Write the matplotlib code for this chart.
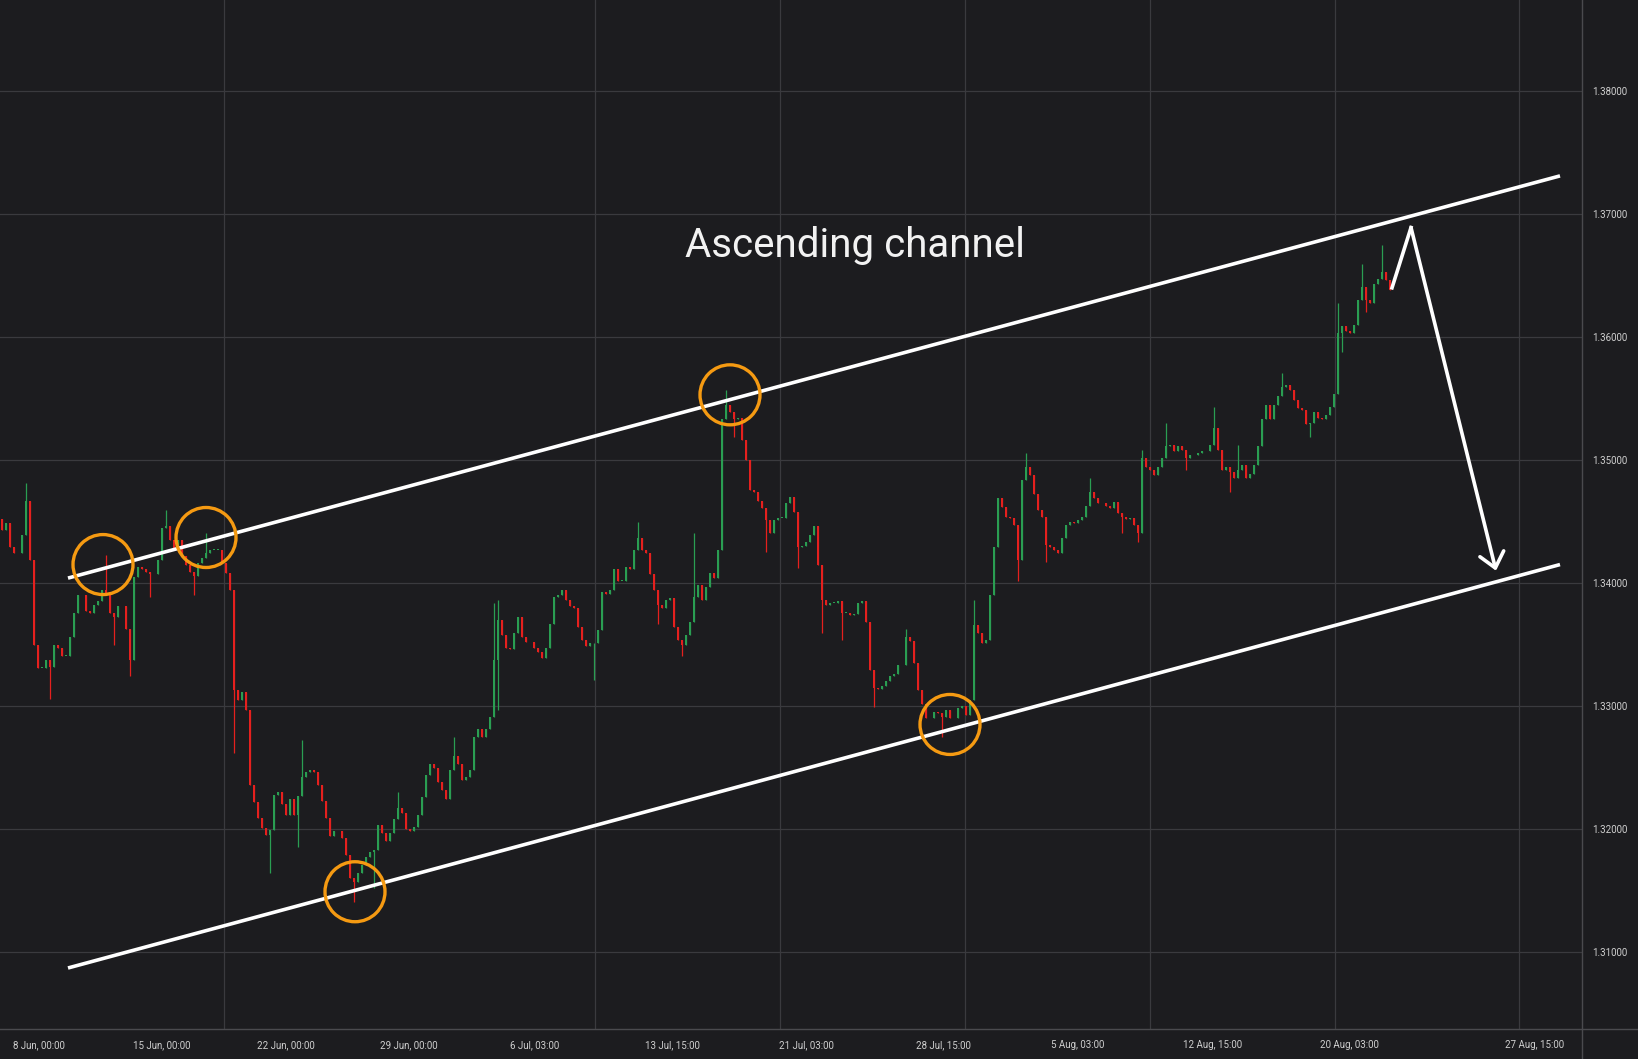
import numpy as np
import matplotlib.pyplot as plt
from matplotlib.lines import Line2D

plt.rcParams['font.family'] = ['Roboto', 'DejaVu Sans']

# x axis: trading hours counted from the left edge of the chart, one candle per 4 hours
bar_hours = 4
first_open = 1.3452

closes = [
    1.3443, 1.3449, 1.3429, 1.3424, 1.3424, 1.3439, 1.3467, 1.3419, 1.3350, 1.3331,
    1.3331, 1.3337, 1.3332, 1.3350, 1.3347, 1.3341, 1.3341, 1.3356, 1.3376, 1.3390,
    1.3390, 1.3377, 1.3376, 1.3382, 1.3385, 1.3394, 1.3390, 1.3376, 1.3372, 1.3381,
    1.3381, 1.3363, 1.3337, 1.3405, 1.3413, 1.3411, 1.3409, 1.3407, 1.3407, 1.3419,
    1.3445, 1.3446, 1.3435, 1.3427, 1.3435, 1.3422, 1.3415, 1.3409, 1.3406, 1.3416,
    1.3420, 1.3424, 1.3427, 1.3427, 1.3427, 1.3416, 1.3408, 1.3394, 1.3313, 1.3305,
    1.3311, 1.3297, 1.3236, 1.3222, 1.3209, 1.3201, 1.3195, 1.3199, 1.3228, 1.3230,
    1.3220, 1.3211, 1.3224, 1.3211, 1.3227, 1.3242, 1.3246, 1.3248, 1.3246, 1.3236,
    1.3223, 1.3209, 1.3194, 1.3198, 1.3198, 1.3193, 1.3179, 1.3160, 1.3157, 1.3164,
    1.3171, 1.3177, 1.3181, 1.3183, 1.3203, 1.3197, 1.3190, 1.3197, 1.3208, 1.3217,
    1.3213, 1.3200, 1.3198, 1.3202, 1.3211, 1.3226, 1.3244, 1.3253, 1.3250, 1.3238,
    1.3232, 1.3224, 1.3248, 1.3259, 1.3253, 1.3240, 1.3242, 1.3248, 1.3275, 1.3281,
    1.3275, 1.3281, 1.3291, 1.3337, 1.3370, 1.3358, 1.3347, 1.3346, 1.3359, 1.3372,
    1.3356, 1.3352, 1.3352, 1.3347, 1.3344, 1.3339, 1.3347, 1.3367, 1.3389, 1.3390,
    1.3394, 1.3386, 1.3381, 1.3380, 1.3364, 1.3354, 1.3349, 1.3351, 1.3351, 1.3362,
    1.3393, 1.3391, 1.3394, 1.3411, 1.3402, 1.3402, 1.3413, 1.3411, 1.3427, 1.3437,
    1.3427, 1.3424, 1.3407, 1.3394, 1.3382, 1.3380, 1.3386, 1.3388, 1.3364, 1.3354,
    1.3350, 1.3358, 1.3368, 1.3389, 1.3398, 1.3386, 1.3397, 1.3408, 1.3404, 1.3427,
    1.3533, 1.3545, 1.3539, 1.3533, 1.3534, 1.3516, 1.3500, 1.3476, 1.3474, 1.3467,
    1.3461, 1.3451, 1.3441, 1.3451, 1.3453, 1.3453, 1.3465, 1.3470, 1.3458, 1.3429,
    1.3430, 1.3433, 1.3439, 1.3446, 1.3415, 1.3386, 1.3382, 1.3384, 1.3384, 1.3385,
    1.3376, 1.3376, 1.3374, 1.3375, 1.3384, 1.3385, 1.3368, 1.3329, 1.3315, 1.3314,
    1.3316, 1.3320, 1.3324, 1.3326, 1.3333, 1.3333, 1.3356, 1.3353, 1.3335, 1.3313,
    1.3302, 1.3290, 1.3290, 1.3295, 1.3294, 1.3291, 1.3297, 1.3290, 1.3290, 1.3298,
    1.3300, 1.3293, 1.3305, 1.3366, 1.3359, 1.3351, 1.3354, 1.3390, 1.3429, 1.3469,
    1.3462, 1.3454, 1.3453, 1.3447, 1.3419, 1.3484, 1.3494, 1.3488, 1.3472, 1.3459,
    1.3454, 1.3431, 1.3429, 1.3427, 1.3424, 1.3437, 1.3447, 1.3450, 1.3449, 1.3451,
    1.3454, 1.3463, 1.3474, 1.3469, 1.3465, 1.3465, 1.3463, 1.3461, 1.3466, 1.3457,
    1.3454, 1.3452, 1.3453, 1.3447, 1.3441, 1.3502, 1.3494, 1.3492, 1.3488, 1.3494,
    1.3502, 1.3511, 1.3512, 1.3507, 1.3511, 1.3508, 1.3502, 1.3504, 1.3504, 1.3506,
    1.3507, 1.3507, 1.3512, 1.3526, 1.3508, 1.3492, 1.3494, 1.3490, 1.3485, 1.3492,
    1.3496, 1.3485, 1.3489, 1.3496, 1.3511, 1.3533, 1.3545, 1.3533, 1.3545, 1.3552,
    1.3559, 1.3561, 1.3557, 1.3549, 1.3542, 1.3541, 1.3529, 1.3530, 1.3539, 1.3534,
    1.3533, 1.3537, 1.3543, 1.3554, 1.3603, 1.3609, 1.3605, 1.3603, 1.3610, 1.3630,
    1.3641, 1.3630, 1.3628, 1.3643, 1.3647, 1.3653, 1.3646, 1.3638,
]

# wicks that stick out beyond the bodies (candle index: price)
spike_highs = {6: 1.3481, 26: 1.3423, 41: 1.3459, 51: 1.3441, 75: 1.3272, 99: 1.3230,
               113: 1.3275, 123: 1.3384, 124: 1.3386, 159: 1.3450, 173: 1.3441,
               181: 1.3557, 226: 1.3363, 243: 1.3386, 256: 1.3506, 272: 1.3485,
               285: 1.3508, 291: 1.3530, 303: 1.3543, 309: 1.3512, 320: 1.3571,
               334: 1.3628, 340: 1.3659, 345: 1.3675}
spike_lows = {12: 1.3306, 28: 1.3350, 32: 1.3324, 37: 1.3389, 48: 1.3390, 58: 1.3262,
              67: 1.3164, 74: 1.3185, 88: 1.3141, 93: 1.3152, 124: 1.3297, 148: 1.3321,
              164: 1.3367, 170: 1.3341, 183: 1.3519, 191: 1.3425, 199: 1.3412,
              205: 1.3359, 210: 1.3354, 218: 1.3299, 235: 1.3275, 254: 1.3402,
              261: 1.3417, 280: 1.3441, 284: 1.3433, 296: 1.3492, 307: 1.3474,
              327: 1.3519, 335: 1.3588, 341: 1.3620}

price_ticks = [1.31, 1.32, 1.33, 1.34, 1.35, 1.36, 1.37, 1.38]
date_pos = [39, 162, 286, 409, 535, 672, 806, 943, 1078, 1213, 1349, 1535]
date_labels = ['8 Jun, 00:00', '15 Jun, 00:00', '22 Jun, 00:00', '29 Jun, 00:00',
               '6 Jul, 03:00', '13 Jul, 15:00', '21 Jul, 03:00', '28 Jul, 15:00',
               '5 Aug, 03:00', '12 Aug, 15:00', '20 Aug, 03:00', '27 Aug, 15:00']
grid_pos = [39, 224, 409, 595, 780, 965, 1150, 1335, 1519]

# channel boundaries (hours, price)
upper_x, upper_y = [68, 1560], [1.3404, 1.3731]
lower_x, lower_y = [68, 1560], [1.3087, 1.3415]
# touches of the channel
touch_x = [103, 206, 355, 730, 950]
touch_y = [1.3415, 1.3437, 1.3149, 1.3553, 1.3285]
# projected move
arrow_x = [1392, 1411, 1496]
arrow_y = [1.3640, 1.3689, 1.3410]

bg = '#1c1c1f'
grid_c = '#3a3a3e'
sep_c = '#4a4a4e'
txt_c = '#cfcfcf'
green = '#2a9e52'
red = '#e5201e'
orange = '#f59a12'

closes = np.array(closes)
opens = np.r_[first_open, closes[:-1]]
x = np.arange(len(closes)) * bar_hours + bar_hours / 2
highs = np.maximum(opens, closes)
lows = np.minimum(opens, closes)
for k, v in spike_highs.items():
    highs[k] = max(highs[k], v)
for k, v in spike_lows.items():
    lows[k] = min(lows[k], v)
colors = np.where(closes >= opens, green, red)

fig = plt.figure(figsize=(16.38, 10.59), dpi=100, facecolor=bg)
ax = fig.add_axes([0, 30 / 1059, 1582 / 1638, 1029 / 1059])
ax.set_facecolor(bg)

ax.vlines(x, lows, highs, colors=colors, lw=0.9, zorder=2)
body_h = np.maximum(np.abs(closes - opens), 0.00004)
ax.bar(x, body_h, bottom=np.minimum(opens, closes), width=2.6, color=colors,
       linewidth=0, zorder=2)

ax.plot(upper_x, upper_y, color='white', lw=2.6, solid_capstyle='butt', zorder=4)
ax.plot(lower_x, lower_y, color='white', lw=2.6, solid_capstyle='butt', zorder=4)
ax.scatter(touch_x, touch_y, s=1866, facecolors='none', edgecolors=orange,
           linewidths=2.4, zorder=5)

ax.plot(arrow_x[:2], arrow_y[:2], color='white', lw=2.6, zorder=4)
ax.annotate('', xy=(arrow_x[2], arrow_y[2]), xytext=(arrow_x[1], arrow_y[1]),
            arrowprops=dict(arrowstyle='->,head_length=1.05,head_width=0.88',
                            color='white', lw=2.6, mutation_scale=10,
                            shrinkA=0, shrinkB=0), zorder=4)

ax.text(855, 1.3665, 'Ascending channel', ha='center', va='baseline',
        fontsize=29, color='#f2f2f2', zorder=6)

ax.set_xlim(0, 1582)
ax.set_ylim(1.30374, 1.38740)

ax.set_xticks(date_pos)
ax.set_xticklabels(date_labels)
ax.set_xticks(grid_pos, minor=True)
ax.set_yticks(price_ticks)
ax.set_yticklabels([f'{p:.5f}' for p in price_ticks])
ax.yaxis.tick_right()
ax.xaxis.grid(False, which='major')
ax.xaxis.grid(True, which='minor', color=grid_c, lw=0.9)
ax.yaxis.grid(True, color=grid_c, lw=0.9)
ax.set_axisbelow(True)
ax.tick_params(axis='both', which='both', length=0, labelsize=7, labelcolor=txt_c)
ax.tick_params(axis='y', pad=7)
ax.tick_params(axis='x', pad=8)
for s in ax.spines.values():
    s.set_visible(False)

fig.add_artist(Line2D([1582 / 1638] * 2, [0, 1], transform=fig.transFigure, color=sep_c, lw=1))
fig.add_artist(Line2D([0, 1], [30 / 1059] * 2, transform=fig.transFigure, color=sep_c, lw=1))

fig.savefig('out.png', dpi=100, facecolor=bg)
